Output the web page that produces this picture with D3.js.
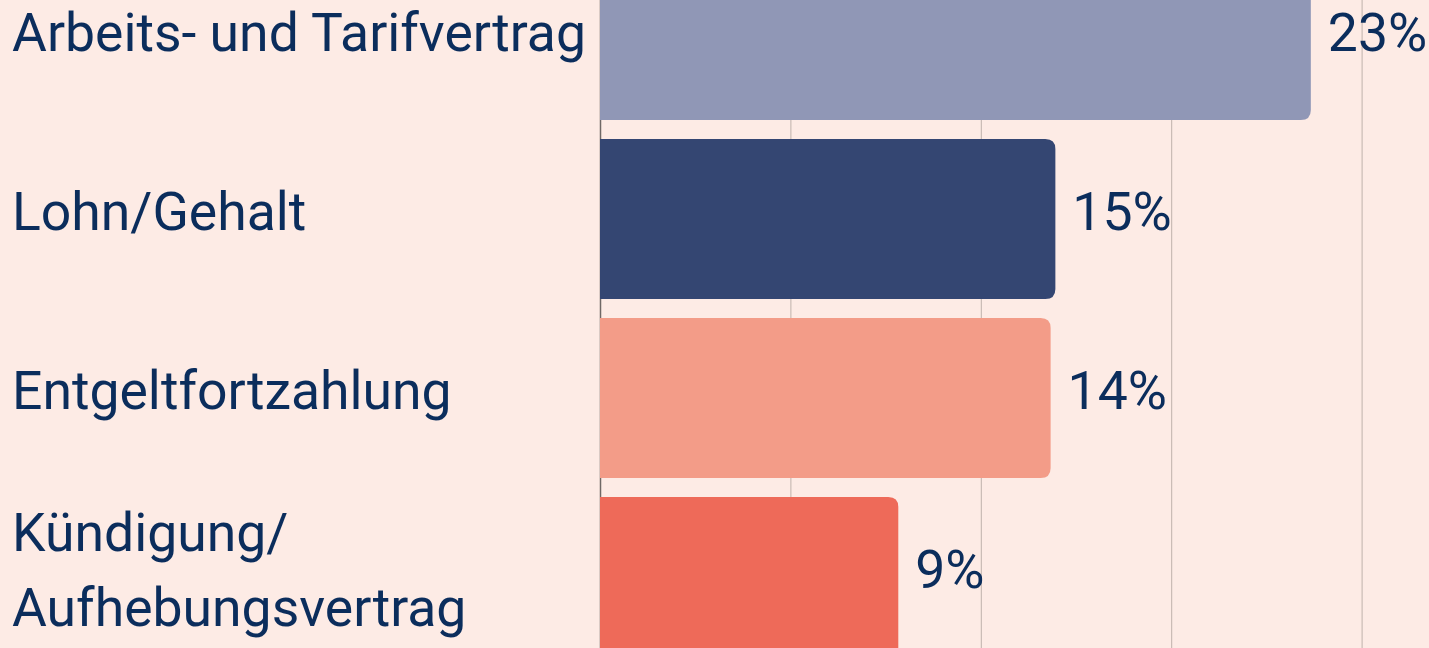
<!DOCTYPE html>
<html lang="de">
<head>
    <meta charset="UTF-8">
    <script src="https://d3js.org/d3.v7.min.js"></script>
    <title>Themen</title>
    <style>
      html, body { margin: 0; padding: 0; background: #fdebe5; overflow: hidden; }
      svg { display: block; }
    </style>
</head>
<body>
    <div id="container"></div>
</body>
<script>
    // Daten
    var categories = ["Arbeits- und Tarifvertrag", "Lohn/Gehalt", "Entgeltfortzahlung", "Kündigung/\nAufhebungsvertrag"];
    var values = [22.4, 14.35, 14.2, 9.4];
    var valueLabels = ["23%", "15%", "14%", "9%"];
    var gridTicks = [0, 6, 12, 18, 24];
    var colors = ["#9097b6", "#344672", "#f39c88", "#ee6a59"];

    var width = 1429,
        height = 648;
    var textColor = "#0b2d5c";
    var fontSize = 53.5;

    var svg = d3.select("#container")
                .append("svg")
                .attr("width", width)
                .attr("height", height);

    svg.append("rect").attr("width", width).attr("height", height).attr("fill", "#fdebe5");

    // x-Skala
    var x = d3.scaleLinear().domain([0, 30]).range([600, 1552]);

    // y-Skala: Balken 160px hoch, Abstand 19px
    var y = d3.scaleBand()
              .domain(categories)
              .range([-40, 657])
              .paddingInner(19 / 179)
              .paddingOuter(0);

    // Gitterlinien
    svg.append("g")
       .selectAll("line")
       .data(gridTicks)
       .enter()
       .append("line")
       .attr("x1", function(d){ return x(d) + 0.5 })
       .attr("x2", function(d){ return x(d) + 0.5 })
       .attr("y1", 0)
       .attr("y2", height)
       .attr("stroke", function(d){ return d === 0 ? "#6f6866" : "#bfb2ac" })
       .attr("stroke-width", function(d){ return d === 0 ? 1.5 : 1 });

    // Balken, rechts abgerundet
    function barPath(x0, x1, y0, h, r) {
        return "M" + x0 + "," + y0 +
               "H" + (x1 - r) +
               "Q" + x1 + "," + y0 + " " + x1 + "," + (y0 + r) +
               "V" + (y0 + h - r) +
               "Q" + x1 + "," + (y0 + h) + " " + (x1 - r) + "," + (y0 + h) +
               "H" + x0 + "Z";
    }

    svg.append("g")
       .selectAll("path")
       .data(values)
       .enter()
       .append("path")
       .attr("d", function(d, i){ return barPath(x(0), x(d), y(categories[i]), y.bandwidth(), 10) })
       .attr("fill", function(d, i){ return colors[i] });

    // Kategorien
    var labels = svg.append("g")
       .selectAll("text")
       .data(categories)
       .enter()
       .append("text")
       .attr("x", 12)
       .attr("font-family", "Roboto, sans-serif")
       .attr("font-size", fontSize)
       .attr("fill", textColor);

    labels.each(function(d){
        var lines = d.split("\n");
        var cy = y(d) + y.bandwidth() / 2;
        var lh = 75;
        var start = cy + 11 - (lines.length - 1) * lh / 2;
        var t = d3.select(this);
        lines.forEach(function(l, j){
            t.append("tspan").attr("x", 12).attr("y", start + j * lh).text(l);
        });
    });

    // Werte
    svg.append("g")
       .selectAll("text")
       .data(values)
       .enter()
       .append("text")
       .attr("x", function(d){ return x(d) + 17 })
       .attr("y", function(d, i){ return y(categories[i]) + y.bandwidth() / 2 + 11 })
       .attr("font-family", "Roboto, sans-serif")
       .attr("font-size", fontSize)
       .attr("fill", textColor)
       .text(function(d, i){ return valueLabels[i] });
</script>
</html>
